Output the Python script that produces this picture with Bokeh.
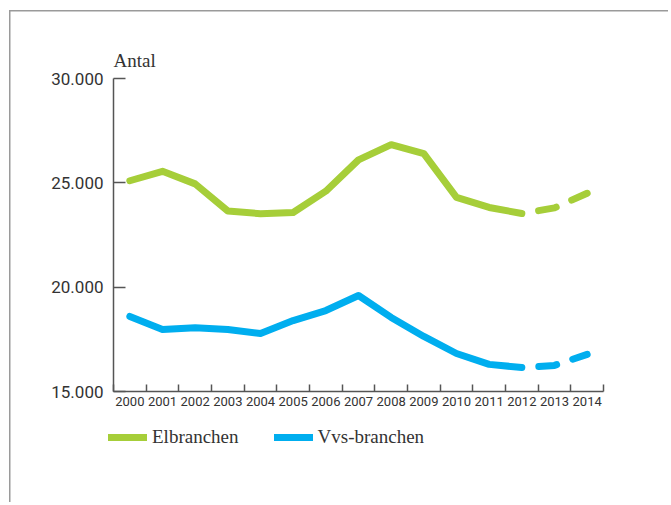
from bokeh.plotting import figure
from bokeh.models import FixedTicker, Legend, LegendItem, Label, Range1d
from bokeh.embed import file_html
from bokeh.resources import INLINE

years = [2000, 2001, 2002, 2003, 2004, 2005, 2006, 2007, 2008, 2009, 2010, 2011, 2012, 2013, 2014]
elbranchen = [25100, 25550, 24950, 23650, 23520, 23580, 24600, 26100, 26830, 26400, 24300, 23820, 23530, 23800, 24500]
vvs_branchen = [18600, 17970, 18060, 17970, 17780, 18400, 18880, 19600, 18550, 17640, 16820, 16300, 16150, 16250, 16780]
forecast_from = 2012  # dashed from this year on
y_ticks = [15000, 20000, 25000, 30000]
y_tick_labels = ["15.000", "20.000", "25.000", "30.000"]
series_names = ["Elbranchen", "Vvs-branchen"]
colors = ["#a6ce39", "#00aeef"]

TICK_FONT = "Roboto"
SERIF = "Liberation Serif"
TEXT_COLOR = "#333333"
AXIS_COLOR = "#555555"

# ---- layout geometry (pixels) ----
W, H = 668, 502
AX_L, AX_R, AX_T, AX_B = 113, 603, 78, 391        # axes box
FR_L, FR_R, FR_T, FR_B = 30, 612, 40, 462         # plotting frame (holds labels/legend too)

x_start, x_end = years[0] - 0.5, years[-1] + 0.5
y_lo, y_hi = y_ticks[0], y_ticks[-1]
xpp = (x_end - x_start) / (AX_R - AX_L)
ypp = (y_hi - y_lo) / (AX_B - AX_T)

p = figure(width=W, height=H, output_backend="svg", toolbar_location=None,
           x_range=Range1d(x_start - (AX_L - FR_L) * xpp, x_end + (FR_R - AX_R) * xpp),
           y_range=Range1d(y_lo - (FR_B - AX_B) * ypp, y_hi + (AX_T - FR_T) * ypp),
           min_border_left=FR_L, min_border_right=W - FR_R, min_border_top=FR_T,
           min_border_bottom=H - FR_B)
p.outline_line_color = None
p.xgrid.grid_line_color = None
p.ygrid.grid_line_color = None
p.background_fill_color = "white"
p.border_fill_alpha = 0
# surrounding box (top and left edges)
p.styles = {
    "background": ("linear-gradient(#9a9a9a, #9a9a9a) 9px 10px / 100% 1.5px no-repeat, "
                   "linear-gradient(#9a9a9a, #9a9a9a) 9px 10px / 1.5px 100% no-repeat, white"),
}

split = years.index(forecast_from)
renderers = []
for vals, col in zip([elbranchen, vvs_branchen], colors):
    r = p.line(years[:split + 1], vals[:split + 1], line_color=col, line_width=7,
               line_cap="round", line_join="round")
    p.line(years[split:], vals[split:], line_color=col, line_width=7,
           line_cap="round", line_join="round", line_dash="18 17", line_dash_offset=18)
    renderers.append(r)

# x axis: labels centred in year bands, ticks at band boundaries
xa = p.xaxis[0]
xa.fixed_location = y_lo
xa.bounds = (x_start, x_end)
xa.ticker = FixedTicker(ticks=years, minor_ticks=[y - 0.5 for y in years] + [years[-1] + 0.5])
xa.major_label_overrides = {y: str(y) for y in years}
xa.major_tick_line_color = None
xa.major_tick_in = 0
xa.major_tick_out = 0
xa.minor_tick_in = 7
xa.minor_tick_out = 0
xa.minor_tick_line_color = AXIS_COLOR
xa.minor_tick_line_width = 1.5
xa.axis_line_color = AXIS_COLOR
xa.axis_line_width = 1.5
xa.major_label_text_font = TICK_FONT
xa.major_label_text_font_size = "13px"
xa.major_label_text_color = TEXT_COLOR
xa.major_label_standoff = 5

ya = p.yaxis[0]
ya.fixed_location = x_start
ya.bounds = (y_lo, y_hi)
ya.ticker = FixedTicker(ticks=y_ticks, minor_ticks=[])
ya.major_label_overrides = dict(zip(y_ticks, y_tick_labels))
ya.major_tick_in = 12
ya.major_tick_out = 0
ya.major_tick_line_color = AXIS_COLOR
ya.major_tick_line_width = 1.5
ya.minor_tick_line_color = None
ya.axis_line_color = AXIS_COLOR
ya.axis_line_width = 1.5
ya.major_label_text_font = TICK_FONT
ya.major_label_text_font_size = "17px"
ya.major_label_text_color = TEXT_COLOR
ya.major_label_standoff = 10

p.add_layout(Label(x=x_start, y=y_hi + 18 * ypp, text="Antal",
                   text_font=SERIF, text_font_size="19px", text_color=TEXT_COLOR,
                   text_baseline="alphabetic", text_align="left"))

legend = Legend(items=[LegendItem(label=n, renderers=[r]) for n, r in zip(series_names, renderers)],
                orientation="horizontal", location=(108 - FR_L, FR_B - 448),
                glyph_width=39, glyph_height=20, label_height=20, label_standoff=5,
                spacing=35, padding=0, margin=0, border_line_color=None,
                background_fill_alpha=0, label_text_font=SERIF,
                label_text_font_size="19px", label_text_color=TEXT_COLOR)
p.add_layout(legend, "center")

open("out.html", "w").write(file_html(p, INLINE))
